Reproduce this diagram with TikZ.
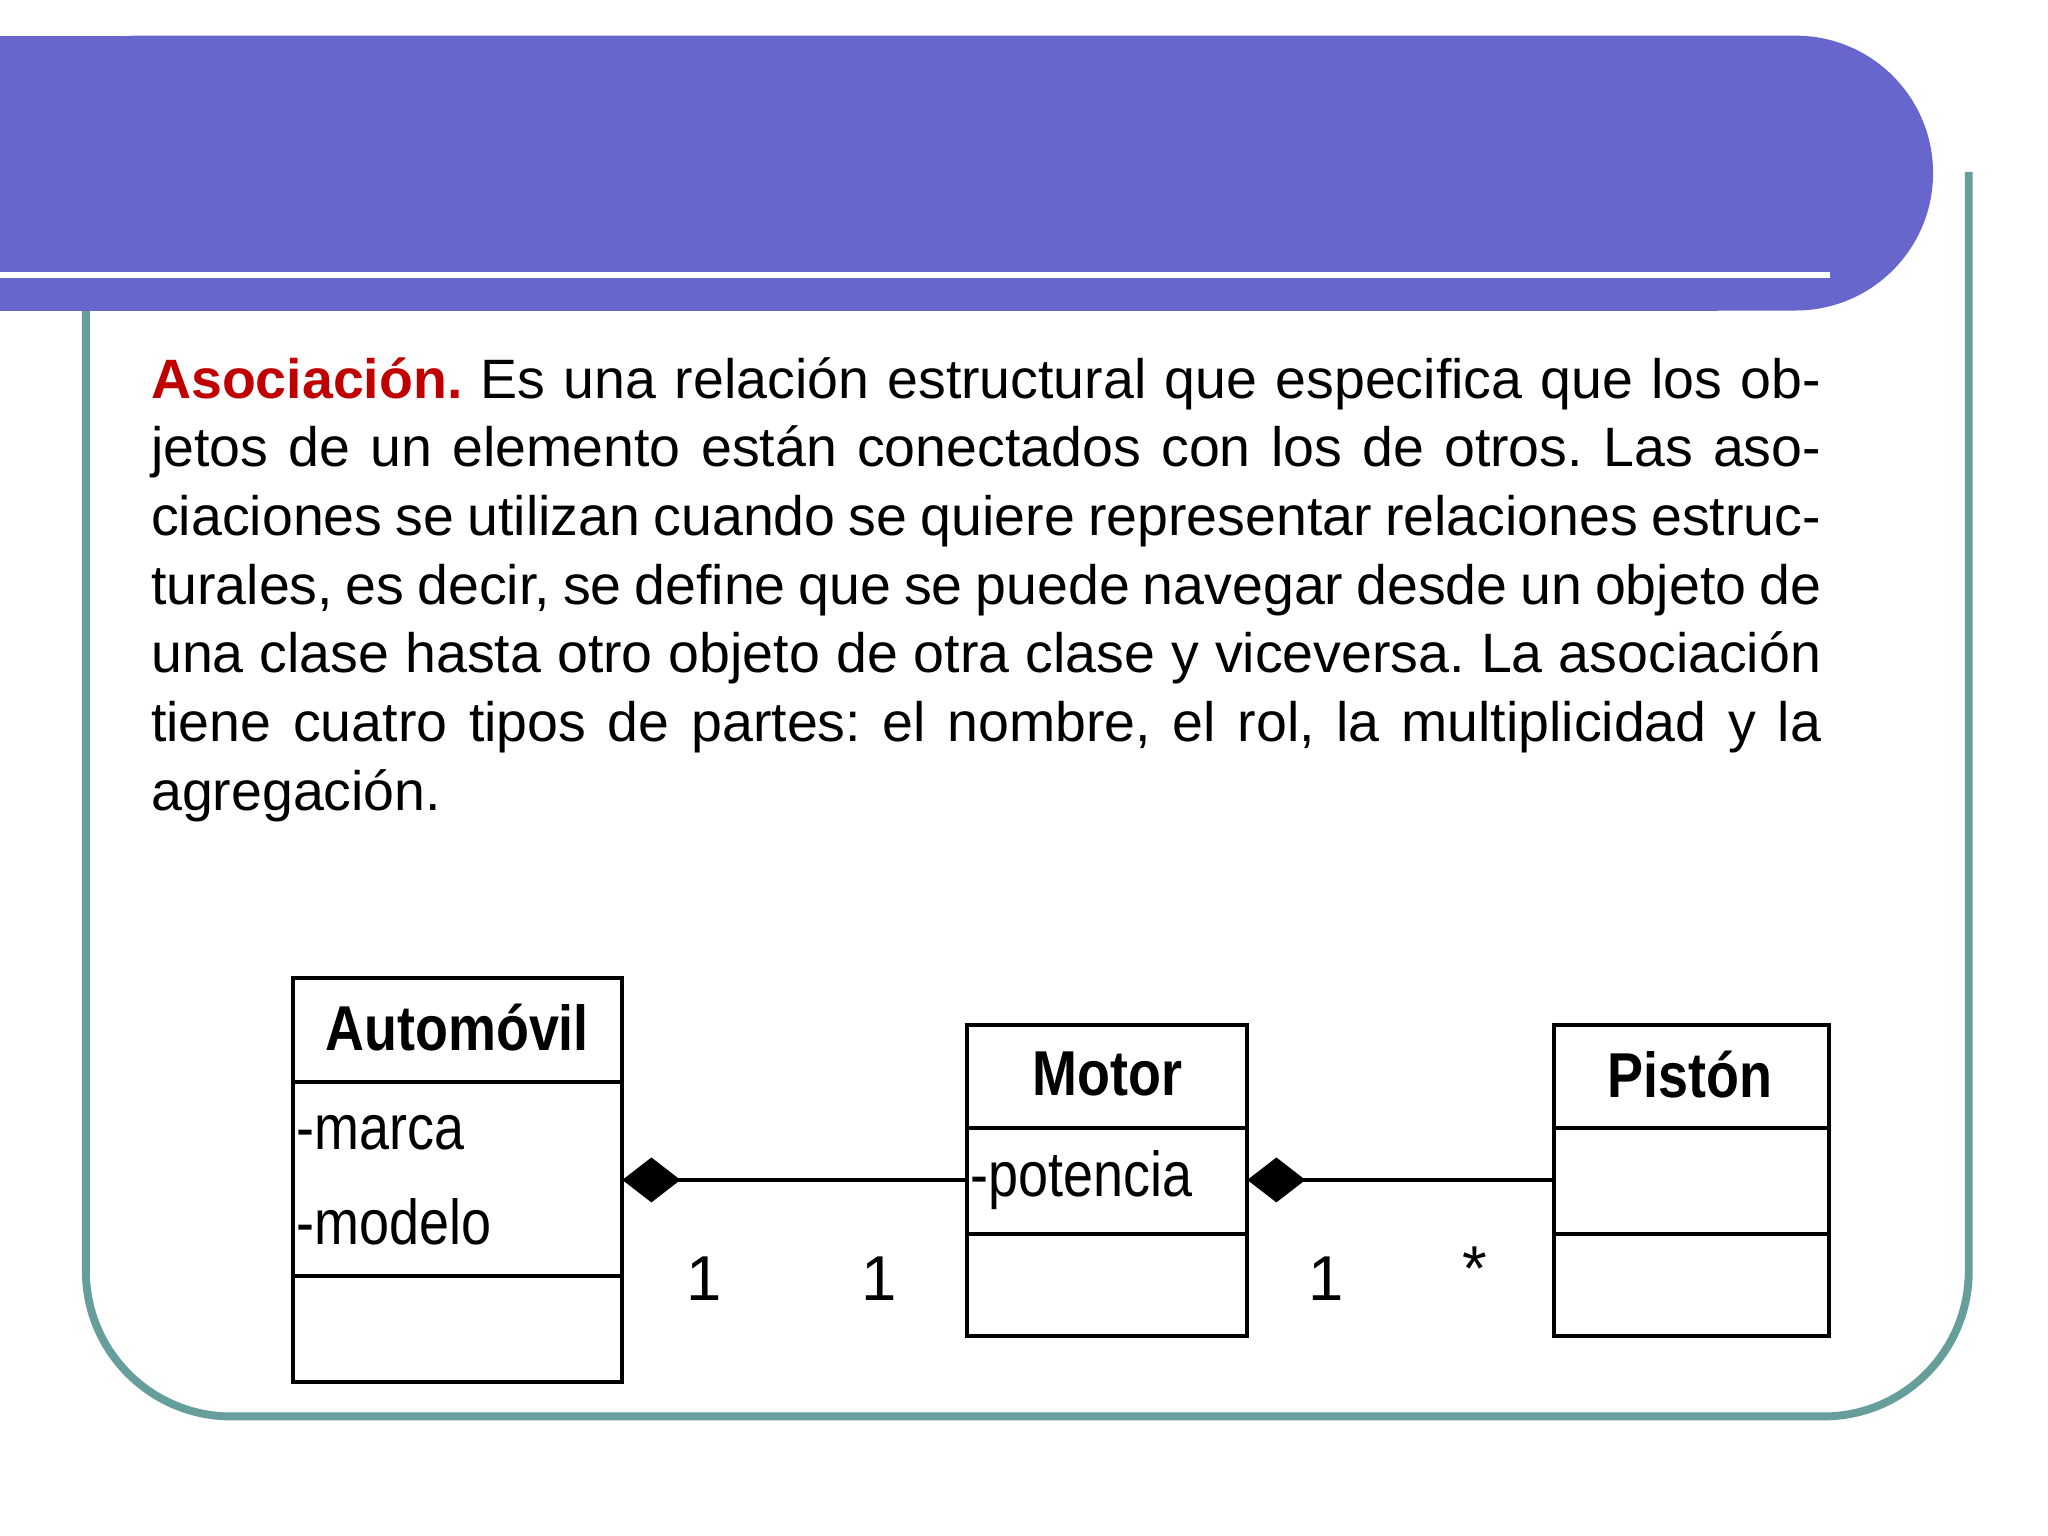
\documentclass[tikz,border=0pt]{standalone}
\usepackage{fontspec}
\setmainfont{Liberation Sans}
\usetikzlibrary{arrows.meta}
\definecolor{band}{HTML}{6666CC}
\definecolor{frame}{HTML}{669E9C}
\definecolor{red}{HTML}{C00000}
\begin{document}
\begin{tikzpicture}[x=0.5pt,y=-0.5pt,
  cls/.style={draw=black,line width=1.5pt},
  ttl/.style={font=\fontsize{24}{26}\selectfont\bfseries,xscale=0.85,inner sep=0},
  att/.style={font=\fontsize{24}{26}\selectfont,xscale=0.85,inner sep=0,anchor=west},
  mult/.style={font=\fontsize{24}{26}\selectfont,inner sep=0}]
\useasboundingbox (0,0) rectangle (1550,1162);
% frame
\draw[frame,line width=3pt,rounded corners=55pt] (65,200) -- (65,1072) -- (1490,1072) -- (1490,130);
% band
\fill[band,rounded corners=52pt] (0,235) -- (0,27) -- (1463,27) -- (1463,235) -- (0,235);
\fill[band] (0,27) rectangle (1300,235);
\draw[white,line width=2.5pt] (0,208) -- (1385,208);
% text
\node[anchor=north west,inner sep=0,text width=632pt,align=justify,font=\fontsize{21}{26}\selectfont\frenchspacing] (txt) at (114,270)
{\textcolor{red}{\bfseries Asociación.} Es una relación estructural que especifica que los objetos de un elemento están conectados con los de otros. Las asociaciones se utilizan cuando se quiere representar relaciones estructurales, es decir, se define que se puede navegar desde un objeto de una clase hasta otro objeto de otra clase y viceversa. La asociación tiene cuatro tipos de partes: el nombre, el rol, la multiplicidad y la agregación.};
% classes
\draw[cls] (222,740) rectangle (471,1046); \draw[cls] (222,819)--(471,819); \draw[cls] (222,966)--(471,966);
\draw[cls] (732,776) rectangle (944,1011); \draw[cls] (732,854)--(944,854); \draw[cls] (732,934)--(944,934);
\draw[cls] (1176,776) rectangle (1384,1011); \draw[cls] (1176,854)--(1384,854); \draw[cls] (1176,934)--(1384,934);
\node[ttl] (ta) at (346,778) {Automóvil};
\node[ttl] (tm) at (838,813) {Motor};
\node[ttl] (tp) at (1279,813) {Pistón};
\node[att] (a1) at (224,857) {-marca};
\node[att] (a2) at (224,925) {-modelo};
\node[att] (a3) at (734,893) {-potencia};
\coordinate (d1) at (471,893); \coordinate (m1) at (732,893);
\coordinate (d2) at (944,893); \coordinate (p1) at (1176,893);
\draw[line width=1.2pt,{Diamond[length=22pt,width=17pt]}-] (d1) -- (m1);
\draw[line width=1.2pt,{Diamond[length=22pt,width=17pt]}-] (d2) -- (p1);
\node[mult] (n1) at (533,968) {1};
\node[mult] (n2) at (665,968) {1};
\node[mult] (n3) at (1004,968) {1};
\node[mult] (n4) at (1116,960) {*};
\end{tikzpicture}
\end{document}
